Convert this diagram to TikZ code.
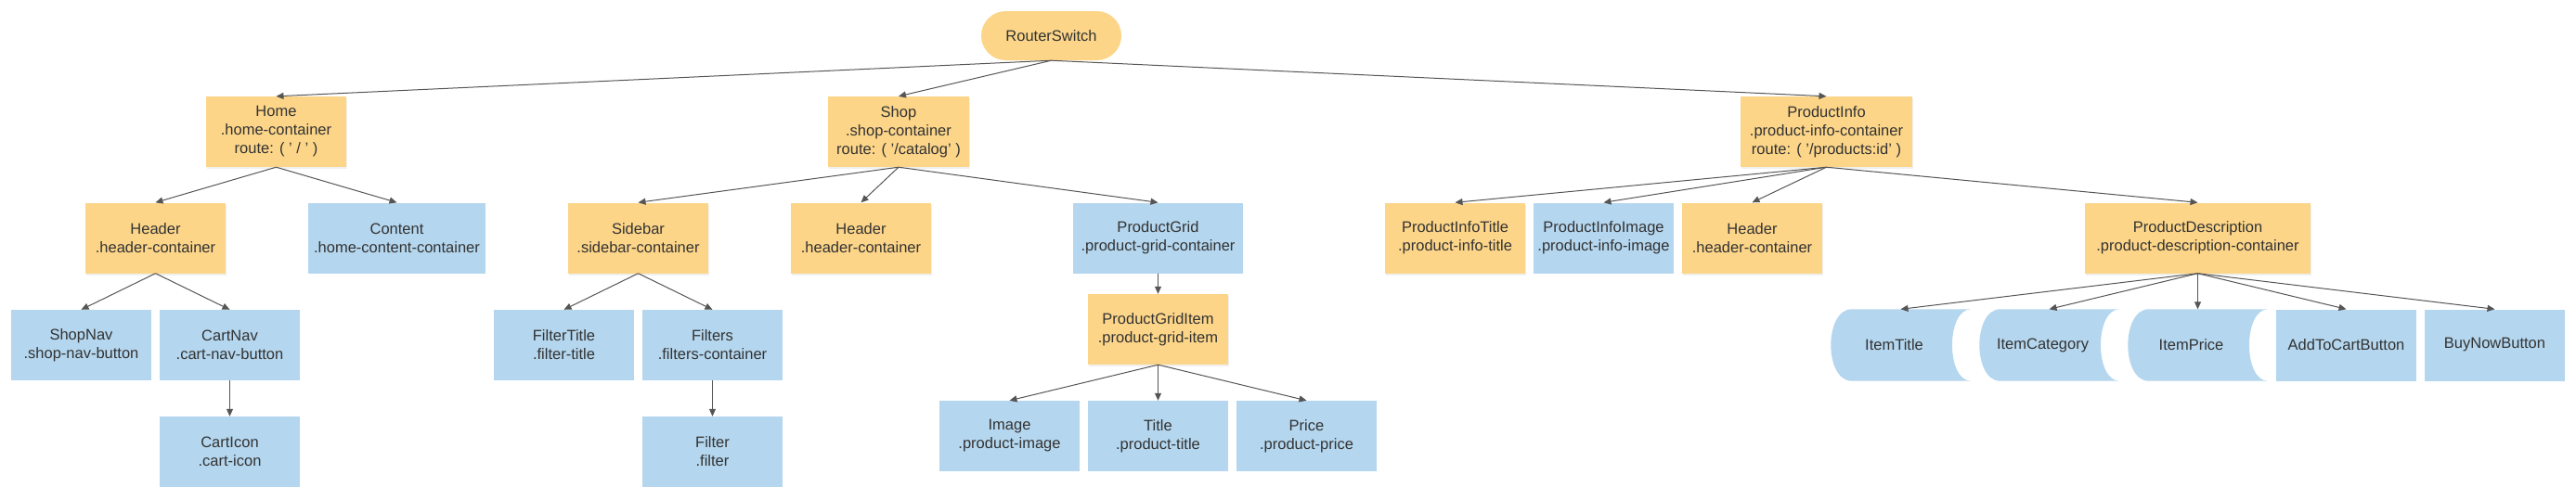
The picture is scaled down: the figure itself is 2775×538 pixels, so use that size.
\documentclass[tikz,border=0pt]{standalone}
\usepackage{fontspec}
\setmainfont{Liberation Sans}
\usetikzlibrary{arrows.meta,shadows,backgrounds}
\definecolor{orng}{RGB}{252,213,136}
\definecolor{blu}{RGB}{180,214,238}
\definecolor{txt}{RGB}{51,51,51}
\definecolor{edgec}{RGB}{85,85,85}
\tikzset{
  box/.style={rectangle, inner sep=2pt, minimum width=151pt, minimum height=76pt, align=center, text=txt, font=\fontsize{16.5}{20}\selectfont},
  obox/.style={box, fill=orng, drop shadow={shadow xshift=1pt, shadow yshift=-2pt, opacity=0.12}},
  bbox/.style={box, fill=blu},
  bowbox/.style={box, minimum height=77pt, execute at end node={\hspace*{14pt}}},
  pill/.style={box, fill=orng, minimum height=53pt, rounded corners=26.5pt},
  link/.style={draw=edgec, line width=1pt, -{Triangle[length=8pt,width=7pt]}}
}
\begin{document}
\begin{tikzpicture}[x=1pt,y=-1pt]
\useasboundingbox (0,0) rectangle (2775,538);
% level 0
\node[pill] (rs) at (1132.5,38.5) {RouterSwitch};
% level 1
\node[obox] (home) at (297.5,142) {Home\\.home-container\\route: ( ' / ' )};
\node[obox, minimum width=152pt] (shop) at (968,142) {Shop\\.shop-container\\route: ( '/catalog' )};
\node[obox, minimum width=185pt] (pinfo) at (1967.5,142) {ProductInfo\\.product-info-container\\route: ( '/products:id' )};
% level 2
\node[obox] (hdr1) at (167.5,256.5) {Header\\.header-container};
\node[bbox, minimum width=191pt] (content) at (427.5,256.5) {Content\\.home-content-container};
\node[obox] (sidebar) at (687.5,256.5) {Sidebar\\.sidebar-container};
\node[obox] (hdr2) at (927.5,256.5) {Header\\.header-container};
\node[bbox, minimum width=183pt] (pgrid) at (1247.5,256.5) {ProductGrid\\.product-grid-container};
\node[obox] (pititle) at (1567.5,256.5) {ProductInfoTitle\\.product-info-title};
\node[bbox] (piimage) at (1727.5,256.5) {ProductInfoImage\\.product-info-image};
\node[obox] (hdr3) at (1887.5,256.5) {Header\\.header-container};
\node[obox, minimum width=243pt] (pdesc) at (2367.5,256.5) {ProductDescription\\.product-description-container};
% level 3
\node[bbox] (shopnav) at (87.5,372) {ShopNav\\.shop-nav-button};
\node[bbox] (cartnav) at (247.5,372) {CartNav\\.cart-nav-button};
\node[bbox] (ftitle) at (607.5,372) {FilterTitle\\.filter-title};
\node[bbox] (filters) at (767.5,372) {Filters\\.filters-container};
\node[obox] (pgitem) at (1247.5,355) {ProductGridItem\\.product-grid-item};
\node[bowbox] (ititle) at (2047.5,372) {ItemTitle};
\node[bowbox] (icat) at (2207.5,372) {ItemCategory};
\node[bowbox] (iprice) at (2367.5,372) {ItemPrice};
\node[bbox, minimum height=77pt] (addcart) at (2527.5,372) {AddToCartButton};
\node[bbox, minimum height=77pt] (buynow) at (2687.5,372) {BuyNowButton};
% level 4
\node[bbox] (carticon) at (247.5,487) {CartIcon\\.cart-icon};
\node[bbox] (filter) at (767.5,487) {Filter\\.filter};
\node[bbox] (image) at (1087.5,470) {Image\\.product-image};
\node[bbox] (title) at (1247.5,470) {Title\\.product-title};
\node[bbox] (price) at (1407.5,470) {Price\\.product-price};
% stored-data shapes
\begin{scope}[on background layer]
\foreach \n in {ititle,icat,iprice}{
  \fill[blu] ([xshift=23pt]\n.north west) -- (\n.north east)
    .. controls +(-27,0) and +(-27,0) .. (\n.south east)
    -- ([xshift=23pt]\n.south west)
    .. controls +(-30,0) and +(-30,0) .. ([xshift=23pt]\n.north west) -- cycle;
}
\end{scope}
% edges
\draw[link] (rs.south) -- (home.north);
\draw[link] (rs.south) -- (shop.north);
\draw[link] (rs.south) -- (pinfo.north);
\draw[link] (home.south) -- (hdr1.north);
\draw[link] (home.south) -- (content.north);
\draw[link] (hdr1.south) -- (shopnav.north);
\draw[link] (hdr1.south) -- (cartnav.north);
\draw[link] (cartnav.south) -- (carticon.north);
\draw[link] (shop.south) -- (sidebar.north);
\draw[link] (shop.south) -- (hdr2.north);
\draw[link] (shop.south) -- (pgrid.north);
\draw[link] (sidebar.south) -- (ftitle.north);
\draw[link] (sidebar.south) -- (filters.north);
\draw[link] (filters.south) -- (filter.north);
\draw[link] (pgrid.south) -- (pgitem.north);
\draw[link] (pgitem.south) -- (image.north);
\draw[link] (pgitem.south) -- (title.north);
\draw[link] (pgitem.south) -- (price.north);
\draw[link] (pinfo.south) -- (pititle.north);
\draw[link] (pinfo.south) -- (piimage.north);
\draw[link] (pinfo.south) -- (hdr3.north);
\draw[link] (pinfo.south) -- (pdesc.north);
\draw[link] (pdesc.south) -- (ititle.north);
\draw[link] (pdesc.south) -- (icat.north);
\draw[link] (pdesc.south) -- (iprice.north);
\draw[link] (pdesc.south) -- (addcart.north);
\draw[link] (pdesc.south) -- (buynow.north);
\end{tikzpicture}
\end{document}
